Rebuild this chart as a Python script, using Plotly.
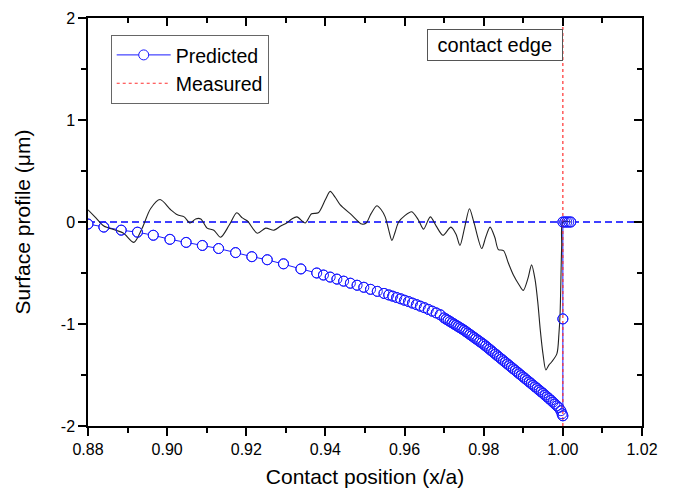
import plotly.graph_objects as go

# ---------------- data ----------------
pred_x = [0.8800, 0.8840, 0.8884, 0.8925, 0.8965, 0.9007, 0.9048, 0.9089, 0.9130, 0.9173,
          0.9214, 0.9253, 0.9294, 0.9338, 0.9378,
          0.9395, 0.9412, 0.9429, 0.9446, 0.9463, 0.9480, 0.9497, 0.9514, 0.9531, 0.9548,
          0.956, 0.957, 0.958, 0.959, 0.960, 0.961, 0.962, 0.963, 0.964, 0.965, 0.966, 0.967, 0.968, 0.969,
          0.9700, 0.9705, 0.9710, 0.9715, 0.9720, 0.9725, 0.9730, 0.9735, 0.9740, 0.9745,
          0.9750, 0.9755, 0.9760, 0.9765, 0.9770, 0.9775, 0.9780, 0.9785, 0.9790, 0.9795,
          0.9800, 0.9805, 0.9810, 0.9815, 0.9820, 0.9825, 0.9830, 0.9835, 0.9840, 0.9845,
          0.9850, 0.9855, 0.9860, 0.9865, 0.9870, 0.9875, 0.9880, 0.9885, 0.9890, 0.9895,
          0.9900, 0.9905, 0.9910, 0.9915, 0.9920, 0.9925, 0.9930, 0.9935, 0.9940, 0.9945,
          0.9950, 0.9955, 0.9960, 0.9965, 0.9970, 0.9975, 0.9980, 0.9985, 0.9990, 0.9995,
          0.9998, 1.0000, 1.0000, 1.0000, 1.0005, 1.0010, 1.0015, 1.0020]
pred_y = [-0.02, -0.05, -0.08, -0.10, -0.13, -0.17, -0.20, -0.23, -0.26, -0.30,
          -0.34, -0.37, -0.41, -0.46, -0.50,
          -0.52, -0.54, -0.56, -0.58, -0.60, -0.62, -0.64, -0.66, -0.68, -0.70,
          -0.715, -0.727, -0.740, -0.753, -0.767, -0.780, -0.795, -0.810, -0.825, -0.840,
          -0.857, -0.874, -0.891, -0.909,
          -0.940, -0.952, -0.964, -0.976, -0.988, -1.000, -1.012, -1.024, -1.036, -1.048,
          -1.060, -1.074, -1.088, -1.102, -1.116, -1.130, -1.144, -1.158, -1.172, -1.186,
          -1.200, -1.216, -1.232, -1.248, -1.264, -1.280, -1.296, -1.312, -1.328, -1.344,
          -1.360, -1.376, -1.392, -1.408, -1.424, -1.440, -1.456, -1.472, -1.488, -1.504,
          -1.520, -1.536, -1.552, -1.568, -1.584, -1.600, -1.616, -1.632, -1.648, -1.664,
          -1.680, -1.697, -1.714, -1.731, -1.748, -1.766, -1.784, -1.802, -1.820, -1.850,
          -1.880, -1.900, -0.950, 0.000, 0.000, 0.000, 0.000, 0.000]

meas_x = [0.8800, 0.8820, 0.8840, 0.8870, 0.8890, 0.8916, 0.8937, 0.8958, 0.8982, 0.9009,
          0.9026, 0.9043, 0.9058, 0.9072, 0.9085, 0.9101, 0.9118, 0.9135, 0.9157, 0.9176,
          0.9190, 0.9203, 0.9228, 0.9249, 0.9270, 0.9287, 0.9302, 0.9315, 0.9328, 0.9349,
          0.9365, 0.9382, 0.9400, 0.9412, 0.9425, 0.9437, 0.9466, 0.9492, 0.9503, 0.9515,
          0.9530, 0.9541, 0.9551, 0.9560, 0.9568, 0.9576, 0.9585, 0.9600, 0.9618, 0.9635,
          0.9648, 0.9665, 0.9680, 0.9697, 0.9717, 0.9730, 0.9740, 0.9752, 0.9764, 0.9775,
          0.9795, 0.9805, 0.9816, 0.9828, 0.9837, 0.9850, 0.9862, 0.9875, 0.9890, 0.9900,
          0.9912, 0.9921, 0.9930, 0.9937, 0.9943, 0.9950, 0.9957, 0.9965, 0.9972, 0.9985,
          0.9990, 0.9993, 0.9997, 1.0000, 1.0020]
meas_y = [0.12, 0.04, -0.04, -0.08, -0.11, -0.20, -0.06, 0.13, 0.22, 0.12,
          0.07, 0.05, -0.01, 0.03, 0.03, -0.06, -0.08, -0.15, -0.03, 0.09,
          0.04, 0.01, -0.11, -0.06, -0.08, -0.04, -0.01, 0.03, 0.05, -0.01,
          0.08, 0.09, 0.22, 0.30, 0.24, 0.17, 0.07, -0.02, -0.01, 0.08,
          0.16, 0.12, 0.05, -0.08, -0.18, -0.10, 0.00, 0.06, 0.10, 0.02,
          -0.07, 0.05, -0.04, -0.13, -0.05, -0.12, -0.23, -0.05, 0.13, 0.00,
          -0.26, -0.15, -0.05, -0.15, -0.27, -0.28, -0.40, -0.52, -0.62, -0.67,
          -0.55, -0.42, -0.57, -0.80, -1.06, -1.30, -1.45, -1.40, -1.37, -1.29,
          -1.10, -0.90, -0.24, 0.00, 0.00]

edge_x = [1.0, 1.0]
edge_y = [-2.0, 2.0]

zero_x = [0.88, 1.02]
zero_y = [0.0, 0.0]

x_tickvals = [0.88, 0.90, 0.92, 0.94, 0.96, 0.98, 1.00, 1.02]
x_ticktext = ["0.88", "0.90", "0.92", "0.94", "0.96", "0.98", "1.00", "1.02"]
y_tickvals = [-2, -1, 0, 1, 2]
y_ticktext = ["-2", "-1", "0", "1", "2"]

BLUE = "#1a1aff"
FONT = "Arial, Liberation Sans, sans-serif"

fig = go.Figure()

# zero reference line (blue dashed)
fig.add_trace(go.Scatter(
    x=zero_x, y=zero_y, mode="lines", showlegend=False,
    line=dict(color="#0000ff", width=1.5, dash="7px,4px"),
))
# predicted: line with white-filled circles (line gaps at symbols)
fig.add_trace(go.Scatter(
    x=pred_x, y=pred_y, mode="lines+markers", name="Predicted",
    line=dict(color=BLUE, width=1),
    marker=dict(symbol="circle", size=10, color="white", line=dict(color=BLUE, width=1)),
))
# measured edge (red dotted)
fig.add_trace(go.Scatter(
    x=edge_x, y=edge_y, mode="lines", name="Measured",
    line=dict(color="#ff3030", width=1.2, dash="dot"),
))
# measured surface trace (black)
fig.add_trace(go.Scatter(
    x=meas_x, y=meas_y, mode="lines", showlegend=False,
    line=dict(color="#222222", width=1.1, shape="spline", smoothing=0.8),
))
# open circle outlines on top
fig.add_trace(go.Scatter(
    x=pred_x, y=pred_y, mode="markers", showlegend=False,
    marker=dict(symbol="circle-open", size=10, color=BLUE, line=dict(width=1)),
))
# dummy for mirrored axes
fig.add_trace(go.Scatter(x=[], y=[], xaxis="x2", yaxis="y2", showlegend=False))

axis_common = dict(showline=True, linecolor="black", linewidth=1.5, showgrid=False,
                   zeroline=False, ticklen=8, tickwidth=1.5, tickcolor="black",
                   automargin=False)

fig.update_layout(
    width=674, height=492,
    margin=dict(l=80, r=40, t=10, b=74, autoexpand=False),
    paper_bgcolor="white", plot_bgcolor="white",
    font=dict(family=FONT, size=16, color="black"),
    xaxis=dict(range=[0.88, 1.02], tickvals=x_tickvals, ticktext=x_ticktext, ticks="outside",
               tickfont=dict(size=16),
               minor=dict(dtick=0.01, ticklen=5, ticks="outside", tickcolor="black", tickwidth=1.5),
               title=dict(text="Contact position (x/a)", font=dict(size=21), standoff=12),
               **axis_common),
    yaxis=dict(range=[-2, 2], tickvals=y_tickvals, ticktext=y_ticktext, ticks="outside",
               tickfont=dict(size=16),
               minor=dict(dtick=0.5, ticklen=5, ticks="outside", tickcolor="black", tickwidth=1.5),
               title=dict(text="Surface profile (μm)", font=dict(size=21), standoff=24),
               **axis_common),
    xaxis2=dict(range=[0.88, 1.02], overlaying="x", side="top", anchor="y2",
                tickvals=x_tickvals, ticks="inside", showticklabels=False,
                minor=dict(dtick=0.01, ticklen=5, ticks="inside", tickcolor="black", tickwidth=1.5),
                **axis_common),
    yaxis2=dict(range=[-2, 2], overlaying="y", side="right", anchor="x2",
                tickvals=y_tickvals, ticks="inside", showticklabels=False,
                minor=dict(dtick=0.5, ticklen=5, ticks="inside", tickcolor="black", tickwidth=1.5),
                **axis_common),
    legend=dict(x=0.041, y=0.959, xanchor="left", yanchor="top",
                bgcolor="white", bordercolor="#666666", borderwidth=1,
                font=dict(family=FONT, size=19.5, color="black"), tracegroupgap=0,
                itemwidth=54),
    showlegend=True,
)

fig.add_annotation(
    x=1.0, xref="x", y=0.973, yref="paper", xanchor="right", yanchor="top",
    text="\u00a0contact edge\u00a0", showarrow=False,
    font=dict(family=FONT, size=20, color="black"),
    bordercolor="#555555", borderwidth=1, borderpad=4, bgcolor="white",
)

fig.write_html("out.html")
